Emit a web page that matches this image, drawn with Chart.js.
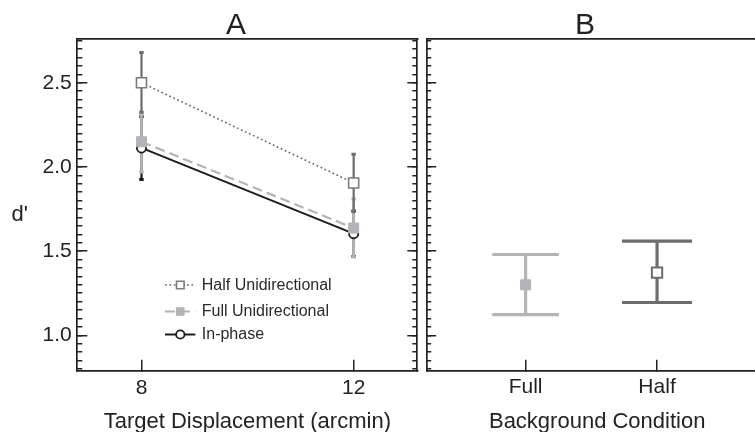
<!DOCTYPE html>
<html>
<head>
<meta charset="utf-8">
<script src="https://cdn.jsdelivr.net/npm/chart.js@4/dist/chart.umd.min.js"></script>
<style>
html, body { margin: 0; padding: 0; background: #fff; width: 755px; height: 432px; overflow: hidden; position: relative; }
canvas { position: absolute; top: 0; }
#chartA { left: 0; }
#chartB { left: 393px; }
</style>
</head>
<body>
<canvas id="chartA" width="472" height="440" style="width:472px;height:440px"></canvas>
<canvas id="chartB" width="384" height="440" style="width:384px;height:440px"></canvas>
<script>
// ---------------- data ----------------
const displacement = [8, 12];
const halfMean = [2.50, 1.905];
const halfLow  = [2.325, 1.735];
const halfHigh = [2.68, 2.075];
const fullMean = [2.15, 1.637];
const fullLow  = [1.97, 1.465];
const fullHigh = [2.31, 1.81];
const inPhaseMean = [2.113, 1.604];
const inPhaseLow  = [1.925, 1.468];
const inPhaseHigh = [2.30, 1.738];
const seriesNames = ['Half Unidirectional', 'Full Unidirectional', 'In-phase'];

const bgConditions = ['Full', 'Half'];
const bgPositions = [1, 2];
const bgMean = [1.30, 1.373];
const bgLow  = [1.123, 1.195];
const bgHigh = [1.48, 1.56];

const yMajorTicks = [1.0, 1.5, 2.0, 2.5];
const yMinorTicks = [0.80, 0.85, 0.90, 0.95, 1.00, 1.05, 1.10, 1.15, 1.20, 1.25,
  1.30, 1.35, 1.40, 1.45, 1.50, 1.55, 1.60, 1.65, 1.70, 1.75,
  1.80, 1.85, 1.90, 1.95, 2.00, 2.05, 2.10, 2.15, 2.20, 2.25,
  2.30, 2.35, 2.40, 2.45, 2.50, 2.55, 2.60, 2.65, 2.70, 2.75];
const panelTitles = ['A', 'B'];
const xTitleA = 'Target Displacement (arcmin)';
const xTitleB = 'Background Condition';
const yTitle = "d'";

// ---------------- style ----------------
const FONT = '"Liberation Sans", Arial, Helvetica, sans-serif';
const INK = '#222222';
const DARK = '#6d6d6f';
const LIGHT = '#b4b4b8';
const Y_MIN = 0.79, Y_MAX = 2.76;

const pts = (xs, ys) => xs.map((x, i) => ({ x: x, y: ys[i] }));
const setTicks = (vals) => (s) => { s.ticks = vals.map(v => ({ value: v })); };

function tickAxis(position, vals, len, weight, showBorder, fixedSize) {
  return {
    type: 'linear', position: position, weight: weight,
    axis: (position === 'left' || position === 'right') ? 'y' : 'x',
    min: (position === 'left' || position === 'right') ? Y_MIN : undefined,
    max: (position === 'left' || position === 'right') ? Y_MAX : undefined,
    afterBuildTicks: setTicks(vals),
    afterFit: (s) => { if (s.isHorizontal()) s.height = fixedSize; else s.width = fixedSize; },
    grid: { display: true, drawOnChartArea: false, drawTicks: true, tickLength: -len, color: INK, lineWidth: 1.5 },
    border: { display: showBorder, color: INK, width: 1.7 },
    ticks: { display: false }
  };
}

// ---------------- plugins ----------------
const errorBars = {
  id: 'errorBars',
  beforeDatasetsDraw(chart) {
    const ctx = chart.ctx;
    const xs = chart.scales.x, ys = chart.scales.y;
    const dss = chart.data.datasets;
    for (let i = dss.length - 1; i >= 0; i--) {
      const ds = dss[i];
      if (!ds.errLow) continue;
      ctx.save();
      ctx.strokeStyle = ds.errColor;
      ds.data.forEach((p, j) => {
        const x = xs.getPixelForValue(p.x);
        const yl = ys.getPixelForValue(ds.errLow[j]);
        const yh = ys.getPixelForValue(ds.errHigh[j]);
        ctx.lineWidth = ds.errWidth;
        ctx.beginPath(); ctx.moveTo(x, yl); ctx.lineTo(x, yh); ctx.stroke();
        ctx.lineWidth = ds.capThick;
        ctx.beginPath();
        ctx.moveTo(x - ds.capHalf, yl); ctx.lineTo(x + ds.capHalf, yl);
        ctx.moveTo(x - ds.capHalf, yh); ctx.lineTo(x + ds.capHalf, yh);
        ctx.stroke();
      });
      ctx.restore();
    }
  }
};

const legendA = {
  id: 'legendA',
  afterDraw(chart) {
    const ctx = chart.ctx, ca = chart.chartArea;
    const rows = [285, 311.5, 334.5];
    const x0 = ca.left + 87.7, x1 = ca.left + 118, xm = ca.left + 103, xt = ca.left + 124.5;
    chart.data.datasets.forEach((ds, i) => {
      const y = rows[i];
      ctx.save();
      ctx.strokeStyle = ds.borderColor; ctx.lineWidth = ds.borderWidth;
      ctx.setLineDash(ds.borderDash || []);
      ctx.beginPath(); ctx.moveTo(x0, y); ctx.lineTo(x1, y); ctx.stroke();
      ctx.setLineDash([]);
      ctx.fillStyle = ds.pointBackgroundColor; ctx.strokeStyle = ds.pointBorderColor;
      ctx.lineWidth = ds.pointBorderWidth;
      ctx.beginPath();
      if (ds.pointStyle === 'circle') ctx.arc(xm, y, 4.2, 0, Math.PI * 2);
      else ctx.rect(xm - 3.8, y - 3.8, 7.6, 7.6);
      ctx.fill(); ctx.stroke();
      ctx.fillStyle = '#2a2a2a'; ctx.font = '16px ' + FONT;
      ctx.textAlign = 'left'; ctx.textBaseline = 'middle';
      ctx.fillText(ds.label, xt, y + 0.5);
      ctx.restore();
    });
  }
};

const yLabelA = {
  id: 'yLabelA',
  afterDraw(chart) {
    const ctx = chart.ctx;
    ctx.save();
    ctx.fillStyle = INK; ctx.font = '22px ' + FONT;
    ctx.textAlign = 'center'; ctx.textBaseline = 'alphabetic';
    ctx.fillText(yTitle, 19.8, 220.7);
    ctx.restore();
  }
};

function titleOpts(text) {
  return { display: true, text: text, color: INK, font: { family: FONT, size: 30, lineHeight: 0.9, weight: 'normal' }, padding: { top: 12, bottom: 0 } };
}

// ---------------- chart A ----------------
new Chart(document.getElementById('chartA'), {
  type: 'line',
  data: {
    datasets: [
      { label: seriesNames[0], data: pts(displacement, halfMean),
        errLow: halfLow, errHigh: halfHigh, errColor: DARK, errWidth: 2.2, capHalf: 2.2, capThick: 3,
        borderColor: DARK, borderWidth: 1.6, borderDash: [1.8, 2.6], tension: 0,
        pointStyle: 'rect', pointRadius: 7.1, pointBorderWidth: 1.6, pointBorderColor: '#7b7b7d', pointBackgroundColor: '#ffffff' },
      { label: seriesNames[1], data: pts(displacement, fullMean),
        errLow: fullLow, errHigh: fullHigh, errColor: LIGHT, errWidth: 2.6, capHalf: 2.2, capThick: 3,
        borderColor: LIGHT, borderWidth: 2.2, borderDash: [10, 5], tension: 0,
        pointStyle: 'rect', pointRadius: 7.1, pointBorderWidth: 1, pointBorderColor: LIGHT, pointBackgroundColor: LIGHT },
      { label: seriesNames[2], data: pts(displacement, inPhaseMean),
        errLow: inPhaseLow, errHigh: inPhaseHigh, errColor: '#1a1a1a', errWidth: 2.2, capHalf: 2.2, capThick: 3,
        borderColor: '#1c1c1c', borderWidth: 2, borderDash: [], tension: 0,
        pointStyle: 'circle', pointRadius: 4.6, pointBorderWidth: 1.8, pointBorderColor: '#1c1c1c', pointBackgroundColor: '#ffffff' }
    ]
  },
  options: {
    responsive: false, animation: false, devicePixelRatio: 1, events: [],
    layout: { padding: 0 },
    plugins: { legend: { display: false }, tooltip: { enabled: false }, title: titleOpts(panelTitles[0]) },
    scales: {
      x: {
        type: 'linear', position: 'bottom', min: 6.79, max: 13.2,
        afterBuildTicks: setTicks(displacement),
        afterFit: (s) => { s.height = 69.3; },
        grid: { display: true, drawOnChartArea: false, drawTicks: true, tickLength: -11, color: INK, lineWidth: 1.5 },
        border: { display: true, color: INK, width: 1.7 },
        ticks: { color: INK, font: { family: FONT, size: 21 }, padding: 16.2, maxRotation: 0, autoSkip: false },
        title: { display: true, text: xTitleA, color: INK, font: { family: FONT, size: 22, lineHeight: 1 }, padding: { top: 0, bottom: 7 } }
      },
      xTop: tickAxis('top', displacement, 11, 0, true, 0),
      y: {
        type: 'linear', position: 'left', weight: 1, min: Y_MIN, max: Y_MAX,
        afterBuildTicks: setTicks(yMajorTicks),
        afterFit: (s) => { s.width = 77.3; },
        grid: { display: true, drawOnChartArea: false, drawTicks: true, tickLength: -10, color: INK, lineWidth: 1.5 },
        border: { display: true, color: INK, width: 1.7 },
        ticks: { color: INK, font: { family: FONT, size: 21 }, padding: 15.6, callback: (v) => Number(v).toFixed(1) }
      },
      yMinor: tickAxis('left', yMinorTicks, 5, 0, false, 0),
      yR: tickAxis('right', yMajorTicks, 10, 1, true, 54.7),
      yRMinor: tickAxis('right', yMinorTicks, 5, 0, false, 0)
    }
  },
  plugins: [errorBars, legendA, yLabelA]
});

// ---------------- chart B ----------------
new Chart(document.getElementById('chartB'), {
  type: 'scatter',
  data: {
    datasets: [
      { label: bgConditions[0], data: pts([bgPositions[0]], [bgMean[0]]),
        errLow: [bgLow[0]], errHigh: [bgHigh[0]], errColor: LIGHT, errWidth: 3.2, capHalf: 33.3, capThick: 3.2,
        showLine: false, pointStyle: 'rect', pointRadius: 7.1, pointBorderWidth: 1, pointBorderColor: LIGHT, pointBackgroundColor: LIGHT },
      { label: bgConditions[1], data: pts([bgPositions[1]], [bgMean[1]]),
        errLow: [bgLow[1]], errHigh: [bgHigh[1]], errColor: DARK, errWidth: 3.2, capHalf: 35, capThick: 3.2,
        showLine: false, pointStyle: 'rect', pointRadius: 7.3, pointBorderWidth: 2, pointBorderColor: DARK, pointBackgroundColor: '#ffffff' }
    ]
  },
  options: {
    responsive: false, animation: false, devicePixelRatio: 1, events: [],
    layout: { padding: 0 },
    plugins: { legend: { display: false }, tooltip: { enabled: false }, title: titleOpts(panelTitles[1]) },
    scales: {
      x: {
        type: 'linear', position: 'bottom', min: 0.2474, max: 2.842,
        afterBuildTicks: setTicks(bgPositions),
        afterFit: (s) => { s.height = 69.3; },
        grid: { display: true, drawOnChartArea: false, drawTicks: true, tickLength: -11, color: INK, lineWidth: 1.5 },
        border: { display: true, color: INK, width: 1.7 },
        ticks: { color: INK, font: { family: FONT, size: 21 }, padding: 14.5, maxRotation: 0, autoSkip: false,
          callback: (v) => bgConditions[bgPositions.indexOf(v)] },
        title: { display: true, text: xTitleB, color: INK, font: { family: FONT, size: 22, lineHeight: 1 }, padding: { top: 0, bottom: 7 } }
      },
      xTop: tickAxis('top', bgPositions, 11, 0, true, 0),
      y: {
        type: 'linear', position: 'left', weight: 1, min: Y_MIN, max: Y_MAX,
        afterBuildTicks: setTicks(yMajorTicks),
        afterFit: (s) => { s.width = 33.7; },
        grid: { display: true, drawOnChartArea: false, drawTicks: true, tickLength: -9.5, color: INK, lineWidth: 1.5 },
        border: { display: true, color: INK, width: 1.7 },
        ticks: { display: false }
      },
      yMinor: tickAxis('left', yMinorTicks, 4.5, 0, false, 0)
    }
  },
  plugins: [errorBars]
});
</script>
</body>
</html>
